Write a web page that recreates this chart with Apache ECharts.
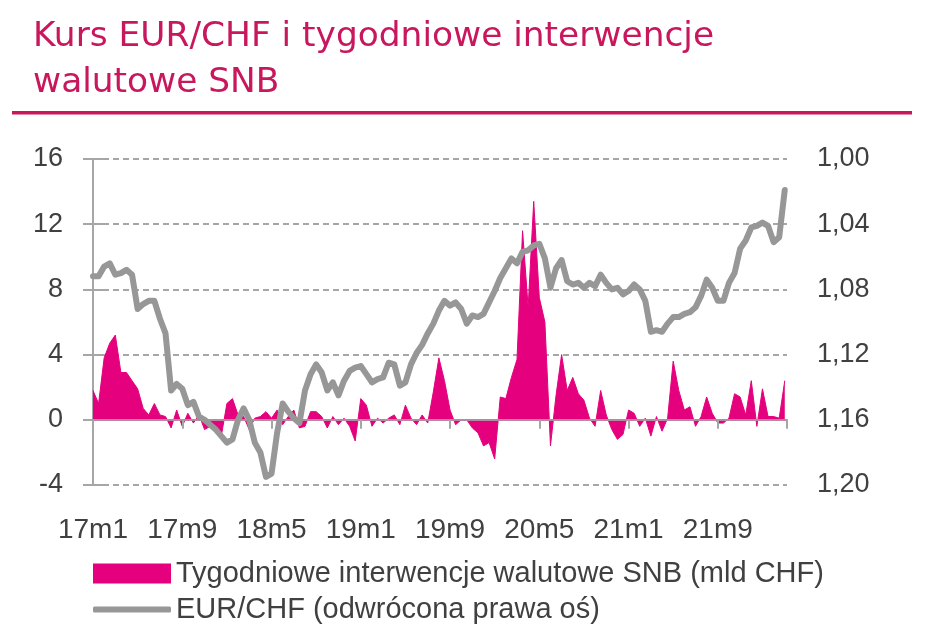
<!DOCTYPE html>
<html>
<head>
<meta charset="utf-8">
<script src="https://cdn.jsdelivr.net/npm/echarts@6/dist/echarts.min.js"></script>
<style>
    html, body { margin: 0; padding: 0; background: #fff; }
    #chart { width: 929px; height: 639px; }
</style>
</head>
<body>
<div id="chart"></div>
<script>
    // opisy osi X co 8 miesiecy
    var tickLabels = ['17m1', '17m9', '18m5', '19m1', '19m9', '20m5', '21m1', '21m9'];
    var krok = 0.5; // odczyt co pol miesiaca, od 17m1

    // tygodniowe interwencje SNB (mld CHF), lewa os
    var interwencje = [
        1.8, 1.0, 3.8, 4.7, 5.2, 2.9, 2.9, 2.4, 1.9, 0.7,
        0.3, 1.0, 0.3, 0.2, -0.5, 0.6, -0.4, 0.4, -0.2, 0.3,
        -0.6, -0.4, -0.7, -1.0, 1.0, 1.3, 0.3, 0.2, -0.6, 0.1,
        0.2, 0.5, 0.1, 0.6, -0.3, 0.2, 0.6, -0.5, -0.4, 0.5,
        0.5, 0.2, -0.5, 0.2, -0.3, 0.1, -0.4, -1.3, 1.3, 0.9,
        -0.4, 0.1, -0.2, 0.1, 0.3, -0.3, 0.9, 0.1, -0.3, 0.3,
        -0.2, 1.7, 3.8, 2.4, 0.6, -0.3, 0.0, 0.0, -0.5, -0.8,
        -1.6, -1.4, -2.4, 1.4, 1.3, 2.6, 3.7, 11.6, 6.9, 13.4,
        7.5, 6.0, -1.6, 1.5, 4.0, 1.8, 2.6, 1.6, 1.2, 0.1,
        -0.4, 1.8, 0.3, -0.6, -1.2, -0.9, 0.6, 0.4, -0.4, 0.1,
        -1.0, 0.2, -0.7, 0.1, 3.6, 1.8, 0.6, 0.8, -0.4, 0.2,
        1.4, 0.4, -0.2, -0.2, 0.1, 1.6, 1.4, 0.3, 2.4, -0.4,
        1.9, 0.2, 0.2, 0.1, 2.4
    ];

    // kurs EUR/CHF, prawa os (odwrocona)
    var eurchf = [
        1.072, 1.072, 1.066, 1.064, 1.071, 1.070, 1.068, 1.071, 1.092, 1.089,
        1.087, 1.087, 1.098, 1.107, 1.142, 1.138, 1.141, 1.151, 1.149, 1.158,
        1.160, 1.163, 1.166, 1.170, 1.174, 1.172, 1.160, 1.153, 1.160, 1.174,
        1.180, 1.195, 1.193, 1.168, 1.150, 1.155, 1.159, 1.162, 1.142, 1.132,
        1.126, 1.131, 1.142, 1.137, 1.145, 1.136, 1.130, 1.128, 1.127, 1.132,
        1.137, 1.135, 1.134, 1.125, 1.126, 1.139, 1.137, 1.126, 1.119, 1.114,
        1.107, 1.101, 1.093, 1.087, 1.090, 1.088, 1.092, 1.101, 1.096, 1.097,
        1.095, 1.088, 1.081, 1.073, 1.067, 1.061, 1.064, 1.057, 1.056, 1.053,
        1.052, 1.061, 1.079, 1.067, 1.062, 1.075, 1.077, 1.076, 1.079, 1.076,
        1.078, 1.071, 1.076, 1.080, 1.079, 1.083, 1.081, 1.077, 1.080, 1.087,
        1.106, 1.105, 1.106, 1.101, 1.097, 1.097, 1.095, 1.094, 1.091, 1.084,
        1.074, 1.079, 1.087, 1.087, 1.076, 1.070, 1.055, 1.050, 1.042, 1.041,
        1.039, 1.041, 1.051, 1.048, 1.019
    ];

    var nazwaSNB = 'Tygodniowe interwencje walutowe SNB (mld CHF)';
    var nazwaKurs = 'EUR/CHF (odwrócona prawa oś)';

    var font = 'Liberation Sans';
    var szary = '#a6a6a6';

    function naOs(arr) {
        var out = [];
        for (var i = 0; i < arr.length; i++) {
            out.push([i * krok, arr[i]]);
        }
        return out;
    }

    var chart = echarts.init(document.getElementById('chart'));

    option = {
        animation: false,
        title: {
            text: 'Kurs EUR/CHF i tygodniowe interwencje\nwalutowe SNB',
            left: 33,
            top: 14,
            padding: 0,
            textStyle: {
                fontFamily: 'DejaVu Sans',
                fontSize: 34.4,
                fontWeight: 'normal',
                lineHeight: 46,
                color: '#c8175d'
            }
        },
        graphic: [{
            type: 'rect',
            shape: { x: 12, y: 111, width: 900, height: 3.5 },
            style: { fill: '#c8175d' }
        }],
        legend: [{
            data: [nazwaSNB],
            left: 93,
            top: 559,
            padding: 0,
            icon: 'rect',
            itemWidth: 78,
            itemHeight: 20,
            textStyle: { fontFamily: font, fontSize: 29, color: '#404040' }
        }, {
            data: [nazwaKurs],
            left: 93,
            top: 595,
            padding: 0,
            icon: 'roundRect',
            itemWidth: 78,
            itemHeight: 6,
            textStyle: { fontFamily: font, fontSize: 29, color: '#404040' }
        }],
        grid: {
            left: 93,
            right: 142,
            top: 159,
            bottom: 154
        },
        xAxis: [{
            type: 'value',
            position: 'bottom',
            min: 0,
            max: 62.2,
            interval: 8,
            axisLine: { show: false, onZero: false },
            axisTick: { show: false },
            splitLine: { show: false },
            axisLabel: {
                margin: 31,
                fontFamily: font,
                fontSize: 28,
                color: '#404040',
                showMaxLabel: false,
                formatter: function (v) {
                    var i = Math.round(v / 8);
                    return (v % 8 === 0 && tickLabels[i]) ? tickLabels[i] : '';
                }
            }
        }, {
            // linia zera z kreskami pod nia
            type: 'value',
            position: 'bottom',
            min: 0,
            max: 62.2,
            interval: 8,
            z: 3,
            axisLine: { show: true, onZero: true, onZeroAxisIndex: 0, lineStyle: { color: '#b48aa2', width: 2 } },
            axisTick: { show: true, length: 9, lineStyle: { color: szary, width: 2 } },
            axisLabel: { show: false },
            splitLine: { show: false }
        }],
        yAxis: [{
            type: 'value',
            min: -4,
            max: 16,
            interval: 4,
            axisLine: { show: true, lineStyle: { color: szary, width: 2 } },
            axisTick: { show: true, length: 10, lineStyle: { color: szary, width: 2 } },
            axisLabel: { margin: 30, fontFamily: font, fontSize: 27, color: '#404040' },
            splitLine: { show: true, lineStyle: { color: szary, width: 2, type: [6, 4] } }
        }, {
            type: 'value',
            min: 1.00,
            max: 1.20,
            interval: 0.04,
            inverse: true,
            axisLine: { show: true, lineStyle: { color: szary, width: 2 } },
            axisTick: { show: true, length: 10, lineStyle: { color: szary, width: 2 } },
            axisLabel: {
                margin: 30,
                fontFamily: font,
                fontSize: 27,
                color: '#404040',
                formatter: function (v) { return v.toFixed(2).replace('.', ','); }
            },
            splitLine: { show: false }
        }],
        series: [{
            name: nazwaSNB,
            type: 'line',
            xAxisIndex: 0,
            yAxisIndex: 0,
            data: naOs(interwencje),
            showSymbol: false,
            color: '#e5007d',
            lineStyle: { width: 1, color: '#e5007d' },
            areaStyle: { color: '#e5007d', opacity: 1 },
            z: 2
        }, {
            name: nazwaKurs,
            type: 'line',
            xAxisIndex: 0,
            yAxisIndex: 1,
            data: naOs(eurchf),
            showSymbol: false,
            color: '#979797',
            lineStyle: { width: 6, color: '#979797', join: 'round', cap: 'round' },
            z: 5
        }]
    };

    chart.setOption(option);
</script>
</body>
</html>
